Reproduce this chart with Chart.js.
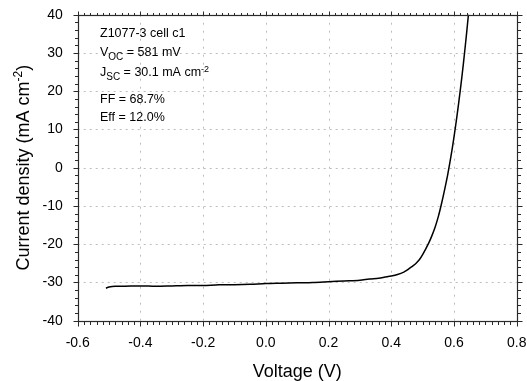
<!DOCTYPE html>
<html>
<head>
<meta charset="utf-8">
<script src="https://cdn.jsdelivr.net/npm/chart.js@4/dist/chart.umd.min.js"></script>
<style>
html,body{margin:0;padding:0;background:#fff;}
#wrap{width:527px;height:381px;position:relative;}
</style>
</head>
<body>
<div id="wrap"><canvas id="c" width="527" height="381"></canvas></div>
<script>
// ---- data ----
const voltage = [-0.51, -0.50, -0.48, -0.45, -0.40, -0.35, -0.30, -0.25, -0.20, -0.15, -0.10, -0.05,
  0.00, 0.05, 0.10, 0.15, 0.20, 0.25, 0.30, 0.33, 0.36, 0.38, 0.40, 0.42, 0.44, 0.45, 0.46, 0.47,
  0.48, 0.49, 0.50, 0.51, 0.52, 0.53, 0.54, 0.55, 0.56, 0.57, 0.58, 0.59, 0.60, 0.61, 0.62, 0.63,
  0.64, 0.646];
const currentDensity = [-31.5, -31.2, -31.0, -31.0, -30.9, -31.0, -30.9, -30.8, -30.8, -30.6, -30.6, -30.5,
  -30.3, -30.2, -30.1, -30.0, -29.8, -29.6, -29.4, -29.1, -28.9, -28.6, -28.3, -27.9, -27.3, -26.8, -26.2, -25.6,
  -24.9, -24.0, -22.7, -21.2, -19.6, -17.7, -15.5, -12.8, -9.5, -5.8, -1.8, 2.8, 8.0, 13.8, 20.2, 27.2,
  35.0, 40.0];
const xTickLabels = ['-0.6', '-0.4', '-0.2', '0.0', '0.2', '0.4', '0.6', '0.8'];
const yTickLabels = ['-40', '-30', '-20', '-10', '0', '10', '20', '30', '40'];
const xAxisTitle = 'Voltage (V)';
const yAxisTitle = ['Current density (mA cm', '-2', ')'];
const infoLines = [
  [['Z1077-3 cell c1', 0]],
  [['V', 0], ['OC', -1], [' = 581 mV', 0]],
  [['J', 0], ['SC', -1], [' = 30.1 mA cm', 0], ['-2', 1]],
  [['FF = 68.7%', 0]],
  [['Eff = 12.0%', 0]]
];

const FONT = '"Liberation Sans", Arial, sans-serif';
const xMin = parseFloat(xTickLabels[0]), xMax = parseFloat(xTickLabels[xTickLabels.length - 1]);
const yMin = parseFloat(yTickLabels[0]), yMax = parseFloat(yTickLabels[yTickLabels.length - 1]);

const decor = {
  id: 'decor',
  beforeDatasetsDraw(chart) {
    const {ctx, chartArea: a, scales: {x, y}} = chart;
    ctx.save();
    ctx.strokeStyle = '#bdbdbd';
    ctx.lineWidth = 1;
    ctx.setLineDash([2, 4]);
    yTickLabels.forEach(t => {
      const v = parseFloat(t);
      if (v === yMin || v === yMax) return;
      const py = Math.round(y.getPixelForValue(v)) + 0.5;
      ctx.beginPath(); ctx.moveTo(a.left, py); ctx.lineTo(a.right, py); ctx.stroke();
    });
    ctx.setLineDash([2, 6]);
    xTickLabels.forEach(t => {
      const v = parseFloat(t);
      if (v === xMin || v === xMax) return;
      const px = Math.round(x.getPixelForValue(v)) + 0.5;
      ctx.beginPath(); ctx.moveTo(px, a.top); ctx.lineTo(px, a.bottom); ctx.stroke();
    });
    ctx.restore();
  },
  afterDraw(chart) {
    const {ctx, chartArea: a, scales: {x, y}} = chart;
    ctx.save();
    const L = Math.round(a.left) + 0.5, R = Math.round(a.right) + 0.5;
    const T = Math.round(a.top) + 0.5, B = Math.round(a.bottom) + 0.5;
    ctx.strokeStyle = '#2a2a2a';
    ctx.lineWidth = 1.2;
    ctx.strokeRect(L, T, R - L, B - T);
    ctx.lineWidth = 1;
    ctx.beginPath();
    for (let i = 0; i <= Math.round((xMax - xMin) / 0.02); i++) {
      const v = xMin + i * 0.02;
      const major = i % 10 === 0;
      const px = Math.round(x.getPixelForValue(v)) + 0.5;
      const len = major ? 5 : 3.5;
      ctx.moveTo(px, B); ctx.lineTo(px, B + len);
      ctx.moveTo(px, T); ctx.lineTo(px, T - len + 1);
    }
    for (let i = 0; i <= Math.round((yMax - yMin) / 2); i++) {
      const v = yMin + i * 2;
      const major = i % 5 === 0;
      const py = Math.round(y.getPixelForValue(v)) + 0.5;
      const len = major ? 5 : 3.5;
      ctx.moveTo(L, py); ctx.lineTo(L - len, py);
      ctx.moveTo(R, py); ctx.lineTo(R + len, py);
    }
    ctx.stroke();

    ctx.fillStyle = '#000';
    ctx.textBaseline = 'alphabetic';
    ctx.textAlign = 'left';
    const baselines = [36.7, 56.2, 76.2, 102.6, 120.6];
    infoLines.forEach((runs, li) => {
      let cx = 100;
      runs.forEach(([t, kind]) => {
        const size = kind === 0 ? 12.5 : (kind < 0 ? 10 : 9);
        const dy = kind === 0 ? 0 : (kind < 0 ? 3.3 : -4.6);
        ctx.font = size + 'px ' + FONT;
        ctx.fillText(t, cx, baselines[li] + dy);
        cx += ctx.measureText(t).width;
      });
    });

    ctx.font = '18px ' + FONT;
    ctx.textAlign = 'center';
    ctx.fillText(xAxisTitle, (a.left + a.right) / 2, 376.5);

    ctx.save();
    ctx.translate(29.3, (a.top + a.bottom) / 2);
    ctx.rotate(-Math.PI / 2);
    ctx.textAlign = 'left';
    ctx.font = '18px ' + FONT;
    const w0 = ctx.measureText(yAxisTitle[0]).width;
    const w2 = ctx.measureText(yAxisTitle[2]).width;
    ctx.font = '12px ' + FONT;
    const w1 = ctx.measureText(yAxisTitle[1]).width;
    let sx = -(w0 + w1 + w2) / 2;
    ctx.font = '18px ' + FONT;
    ctx.fillText(yAxisTitle[0], sx, 0); sx += w0;
    ctx.font = '12px ' + FONT;
    ctx.fillText(yAxisTitle[1], sx, -7); sx += w1;
    ctx.font = '18px ' + FONT;
    ctx.fillText(yAxisTitle[2], sx, 0);
    ctx.restore();
    ctx.restore();
  }
};

new Chart(document.getElementById('c'), {
  type: 'line',
  data: {
    datasets: [{
      data: voltage.map((v, i) => ({x: v, y: currentDensity[i]})),
      borderColor: '#000',
      borderWidth: 1.5,
      pointRadius: 0,
      tension: 0.3,
      fill: false,
      clip: 2
    }]
  },
  options: {
    responsive: false,
    animation: false,
    devicePixelRatio: 1,
    layout: {padding: {top: 14.7, right: 10.3, left: 0, bottom: 0}},
    plugins: {legend: {display: false}, tooltip: {enabled: false}},
    scales: {
      x: {
        type: 'linear', min: xMin, max: xMax,
        afterFit(s) { s.height = 60.3; s.paddingLeft = 0; s.paddingRight = 0; },
        afterBuildTicks(s) { s.ticks = xTickLabels.map(t => ({value: parseFloat(t)})); },
        grid: {display: false}, border: {display: false},
        ticks: {
          padding: 6, color: '#000', font: {family: FONT, size: 14},
          maxRotation: 0, autoSkip: false,
          callback: (v) => xTickLabels.find(t => Math.abs(parseFloat(t) - v) < 1e-9) || ''
        }
      },
      y: {
        type: 'linear', min: yMin, max: yMax,
        afterFit(s) { s.width = 77.7; s.paddingTop = 0; s.paddingBottom = 0; },
        afterBuildTicks(s) { s.ticks = yTickLabels.map(t => ({value: parseFloat(t)})); },
        grid: {display: false}, border: {display: false},
        ticks: {
          padding: 7, color: '#000', font: {family: FONT, size: 14}, autoSkip: false,
          callback: (v) => yTickLabels.find(t => Math.abs(parseFloat(t) - v) < 1e-9) || ''
        }
      }
    }
  },
  plugins: [decor]
});
</script>
</body>
</html>
